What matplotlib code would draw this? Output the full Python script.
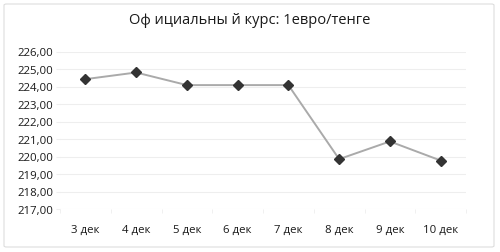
import matplotlib.pyplot as plt
from matplotlib.patches import FancyBboxPatch
from matplotlib.ticker import FuncFormatter

# Данные графика
days = ["3 дек", "4 дек", "5 дек", "6 дек", "7 дек", "8 дек", "9 дек", "10 дек"]
rate = [224.42, 224.80, 224.08, 224.08, 224.08, 219.85, 220.86, 219.77]
y_ticks = [217, 218, 219, 220, 221, 222, 223, 224, 225, 226]

W, H = 500, 253
fig = plt.figure(figsize=(W / 100, H / 100), dpi=100)
plt.rcParams['font.family'] = ['Open Sans', 'DejaVu Sans']

# рамка вокруг всего рисунка
frame = FancyBboxPatch((4 / W, 5 / H), 490 / W, 243 / H,
                       boxstyle="round,pad=0,rounding_size=0.005",
                       transform=fig.transFigure, fill=False,
                       edgecolor="#dddddd", lw=0.8)
fig.patches.append(frame)

ax = fig.add_axes([60 / W, 1 - 210 / H, 406 / W, 157.5 / H])
x = list(range(len(days)))
ax.plot(x, rate, color="#aaaaaa", lw=1.4, zorder=2)
ax.plot(x, rate, linestyle="none", marker="D", ms=5.5, color="#333333", zorder=3)

ax.set_xlim(-0.5, len(days) - 0.5)
ax.set_ylim(217, 226)
ax.set_yticks(y_ticks)
ax.yaxis.set_major_formatter(FuncFormatter(lambda v, p: f"{v:.2f}".replace(".", ",")))
ax.set_xticks(x)
ax.set_xticklabels(days)
ax.set_xticks([i - 0.5 for i in range(len(days) + 1)], minor=True)

ax.grid(axis="y", color="#eeeeee", lw=0.8)
for s in ax.spines.values():
    s.set_visible(False)
ax.tick_params(axis="y", length=3, color="#eeeeee", labelsize=8.2, pad=2, labelcolor="#1a1a1a")
ax.tick_params(axis="x", which="major", length=0, labelsize=8.2, pad=11, labelcolor="#1a1a1a")
ax.tick_params(axis="x", which="minor", length=3, color="#eeeeee")

fig.text(0.5, 1 - 20 / H, "Оф ициальны й курс: 1евро/тенге", ha="center", va="center",
         fontsize=10.5, color="#1a1a1a")

fig.savefig("out.png", dpi=100)
